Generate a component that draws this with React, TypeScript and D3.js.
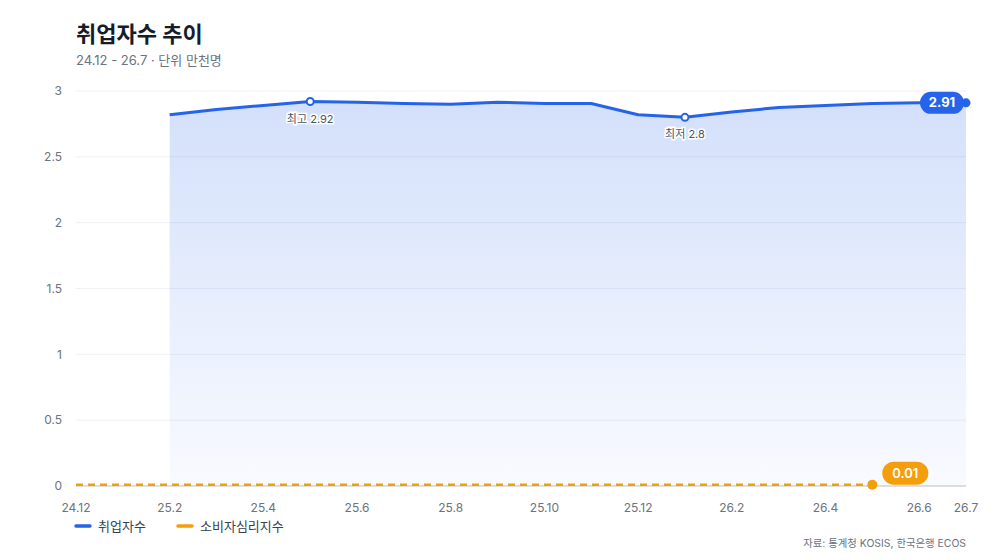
import React, { useEffect, useRef } from 'react';
import * as d3 from 'd3';

const months = ['24.12', '25.1', '25.2', '25.3', '25.4', '25.5', '25.6', '25.7', '25.8', '25.9', '25.10', '25.11', '25.12', '26.1', '26.2', '26.3', '26.4', '26.5', '26.6', '26.7'];
const employed: (number | null)[] = [null, null, 2.82, 2.86, 2.89, 2.92, 2.915, 2.905, 2.9, 2.915, 2.905, 2.905, 2.82, 2.8, 2.84, 2.875, 2.89, 2.905, 2.91, 2.91];
const sentiment: (number | null)[] = [0.01, 0.01, 0.01, 0.01, 0.01, 0.01, 0.01, 0.01, 0.01, 0.01, 0.01, 0.01, 0.01, 0.01, 0.01, 0.01, 0.01, 0.01, null, null];
const xTickLabels = ['24.12', '25.2', '25.4', '25.6', '25.8', '25.10', '25.12', '26.2', '26.4', '26.6', '26.7'];
const yTicks = [0, 0.5, 1, 1.5, 2, 2.5, 3];
const seriesNames = ['취업자수', '소비자심리지수'];

const BLUE = '#2563eb';
const ORANGE = '#f59e0b';
const FONT = 'Inter, "Noto Sans CJK KR", sans-serif';

const App: React.FC = () => {
  const svgRef = useRef<SVGSVGElement>(null);

  useEffect(() => {
    if (!svgRef.current) return;
    const svg = d3.select(svgRef.current);
    svg.selectAll('*').remove();

    const width = 1000;
    const height = 560;
    const margin = { top: 91, right: 34, bottom: 74, left: 76 };

    const x = d3.scalePoint<string>()
      .domain(months)
      .range([margin.left, width - margin.right]);
    const y = d3.scaleLinear()
      .domain([0, 3])
      .range([height - margin.bottom, margin.top]);

    svg.attr('width', width).attr('height', height).style('font-family', FONT);

    const defs = svg.append('defs');
    const grad = defs.append('linearGradient')
      .attr('id', 'areaGrad')
      .attr('x1', 0).attr('y1', 0).attr('x2', 0).attr('y2', 1);
    grad.append('stop').attr('offset', '0%').attr('stop-color', BLUE).attr('stop-opacity', 0.2);
    grad.append('stop').attr('offset', '100%').attr('stop-color', BLUE).attr('stop-opacity', 0.03);

    // title
    svg.append('text')
      .attr('x', 76).attr('y', 42)
      .style('font-size', '22px').style('font-weight', 700)
      .style('fill', '#171c2b')
      .text('취업자수 추이');
    svg.append('text')
      .attr('x', 76).attr('y', 65)
      .style('font-size', '13px').style('fill', '#6b7280')
      .text('24.12 - 26.7 · 단위 만천명');

    // grid
    const grid = svg.append('g');
    yTicks.forEach(t => {
      grid.append('line')
        .attr('x1', margin.left).attr('x2', width - margin.right)
        .attr('y1', y(t)).attr('y2', y(t))
        .style('stroke', t === 0 ? '#d1d5db' : '#eef1f6')
        .style('stroke-width', t === 0 ? 1.5 : 1);
      grid.append('text')
        .attr('x', 62).attr('y', y(t))
        .attr('dy', '0.35em')
        .attr('text-anchor', 'end')
        .style('font-size', '12px').style('fill', '#6b7280')
        .text(t);
    });

    // x labels
    xTickLabels.forEach(m => {
      svg.append('text')
        .attr('x', x(m)!).attr('y', 512)
        .attr('text-anchor', 'middle')
        .style('font-size', '12px').style('fill', '#6b7280')
        .text(m);
    });

    const blueData = months.map((m, i) => ({ m, v: employed[i] }));
    const orangeData = months.map((m, i) => ({ m, v: sentiment[i] }));

    const area = d3.area<{ m: string; v: number | null }>()
      .defined(d => d.v !== null)
      .x(d => x(d.m)!)
      .y0(y(0))
      .y1(d => y(d.v as number));
    svg.append('path')
      .datum(blueData)
      .attr('d', area)
      .style('fill', 'url(#areaGrad)');

    const line = d3.line<{ m: string; v: number | null }>()
      .defined(d => d.v !== null)
      .x(d => x(d.m)!)
      .y(d => y(d.v as number));

    svg.append('path')
      .datum(orangeData)
      .attr('d', line)
      .style('fill', 'none')
      .style('stroke', ORANGE)
      .style('stroke-width', 2.5)
      .style('stroke-dasharray', '7 5');

    svg.append('path')
      .datum(blueData)
      .attr('d', line)
      .style('fill', 'none')
      .style('stroke', BLUE)
      .style('stroke-width', 3)
      .style('stroke-linejoin', 'round');

    // max / min markers
    const valid = blueData.filter(d => d.v !== null) as { m: string; v: number }[];
    const maxD = valid.reduce((a, b) => (b.v > a.v ? b : a));
    const minD = valid.reduce((a, b) => (b.v < a.v ? b : a));
    [[maxD, '최고'], [minD, '최저']].forEach(([d, lbl]) => {
      const p = d as { m: string; v: number };
      svg.append('circle')
        .attr('cx', x(p.m)!).attr('cy', y(p.v)).attr('r', 3.5)
        .style('fill', '#fff').style('stroke', BLUE).style('stroke-width', 2);
      svg.append('text')
        .attr('x', x(p.m)!).attr('y', y(p.v) + 21)
        .attr('text-anchor', 'middle')
        .style('font-size', '11px').style('fill', '#4b5563')
        .style('stroke', '#fff').style('stroke-width', 3)
        .style('paint-order', 'stroke')
        .text(`${lbl} ${p.v}`);
    });

    // end labels
    const lastBlue = valid[valid.length - 1];
    const bx = x(lastBlue.m)!;
    const by = y(lastBlue.v);
    svg.append('circle').attr('cx', bx).attr('cy', by).attr('r', 4.5).style('fill', BLUE);
    svg.append('rect')
      .attr('x', bx - 46).attr('y', by - 11)
      .attr('width', 44).attr('height', 22).attr('rx', 11)
      .style('fill', BLUE);
    svg.append('text')
      .attr('x', bx - 24).attr('y', by).attr('dy', '0.35em')
      .attr('text-anchor', 'middle')
      .style('font-size', '13px').style('font-weight', 700).style('fill', '#fff')
      .text(d3.format('.2f')(lastBlue.v));

    const validO = orangeData.filter(d => d.v !== null) as { m: string; v: number }[];
    const lastO = validO[validO.length - 1];
    const ox = x(lastO.m)!;
    const oy = y(lastO.v);
    svg.append('circle').attr('cx', ox).attr('cy', oy).attr('r', 5).style('fill', ORANGE);
    svg.append('rect')
      .attr('x', ox + 10).attr('y', oy - 23)
      .attr('width', 46).attr('height', 23).attr('rx', 11.5)
      .style('fill', ORANGE);
    svg.append('text')
      .attr('x', ox + 33).attr('y', oy - 11.5).attr('dy', '0.35em')
      .attr('text-anchor', 'middle')
      .style('font-size', '13px').style('font-weight', 600).style('fill', '#fff')
      .text(lastO.v);

    // legend
    const colors = [BLUE, ORANGE];
    const legX = [76, 178];
    seriesNames.forEach((name, i) => {
      svg.append('line')
        .attr('x1', legX[i]).attr('x2', legX[i] + 14)
        .attr('y1', 526).attr('y2', 526)
        .style('stroke', colors[i]).style('stroke-width', 3.5)
        .style('stroke-linecap', 'round');
      svg.append('text')
        .attr('x', legX[i] + 22).attr('y', 526).attr('dy', '0.35em')
        .style('font-size', '13px').style('fill', '#374151')
        .text(name);
    });

    svg.append('text')
      .attr('x', 966).attr('y', 543).attr('dy', '0.35em')
      .attr('text-anchor', 'end')
      .style('font-size', '10.4px').style('fill', '#6b7280')
      .text('자료: 통계청 KOSIS, 한국은행 ECOS');
  }, []);

  return (
    <div style={{ position: 'absolute', left: 0, top: 0, width: 1000, height: 560, background: '#fff' }}>
      <svg ref={svgRef} style={{ display: 'block' }} />
    </div>
  );
};

export default App;
